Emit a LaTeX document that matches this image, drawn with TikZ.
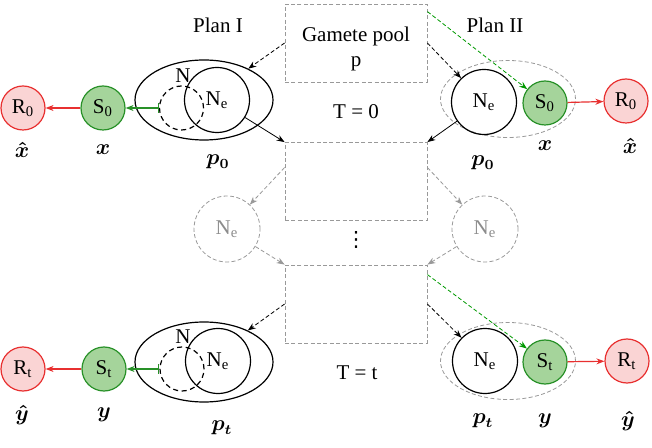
\documentclass[tikz,border=0pt]{standalone}
\usepackage{fontspec}
\setmainfont{Liberation Serif}
\newfontfamily\symfont{DejaVu Sans}
\usepackage{amsmath}
\usetikzlibrary{arrows.meta, shapes.geometric}

\definecolor{redline}{RGB}{232,48,48}
\definecolor{redfill}{RGB}{250,212,212}
\definecolor{greenline}{RGB}{40,145,40}
\definecolor{greenfill}{RGB}{165,212,155}
\newcommand{\lo}[1]{$_{\text{#1}}$}

\begin{document}
\begin{tikzpicture}[x=0.5pt,y=-0.5pt,font=\fontsize{10.5}{12.6}\selectfont]
    \tikzstyle{box}=[draw=gray!80,dash pattern=on 2pt off 1.2pt,line width=.4pt,minimum width=71pt,minimum height=39pt,inner sep=0pt,align=center]
    \tikzstyle{rnode}=[draw=redline,fill=redfill,circle,line width=.6pt,minimum size=22pt,inner sep=0pt]
    \tikzstyle{snode}=[draw=greenline,fill=greenfill,circle,line width=.6pt,minimum size=22pt,inner sep=0pt]
    \tikzstyle{nnode}=[draw,circle,line width=.6pt,minimum size=32.5pt,inner sep=0pt]
    \tikzstyle{dnode}=[draw,circle,dash pattern=on 2.5pt off 1.8pt,line width=.6pt,minimum size=22pt,inner sep=0pt]
    \tikzstyle{gnode}=[draw=gray!80,text=gray!90,circle,dash pattern=on 2pt off 1.2pt,line width=.4pt,minimum size=33pt,inner sep=0pt]
    \tikzstyle{bigell}=[draw,ellipse,line width=.6pt,minimum width=69pt,minimum height=40pt,inner sep=0pt]
    \tikzstyle{grpell}=[draw=gray!80,ellipse,dash pattern=on 2pt off 1.2pt,line width=.4pt,minimum width=67.5pt,minimum height=38.5pt,inner sep=0pt]
    \tikzstyle{arr}=[-{Stealth[length=4pt,width=3pt]},line width=.4pt]
    \tikzstyle{darr}=[arr,dash pattern=on 2pt off 1.2pt]
    \tikzstyle{garr}=[darr,green!60!black]
    \tikzstyle{grarr}=[darr,gray!80]
    \tikzstyle{rarr}=[arr,redline,line width=.6pt]
    \tikzstyle{barr}=[{Bar[width=5pt]}-{Stealth[length=4pt,width=3pt]},greenline,line width=.6pt]
    \useasboundingbox (0,0) rectangle (652,448);

    % middle column
    \node[box] (gp) at (356,43) {};
    \node[align=center] (gptext) at (356,49) {Gamete pool\\p};
    \node[box] (b1) at (356,181.5) {};
    \node[box] (b2) at (356,304) {};
    \node (plan1) at (218,25) {Plan I};
    \node (plan2) at (495,25) {Plan II};
    \node (t0) at (356,112) {T = 0};
    \node (tt) at (357,373) {T = t};
    \node (dots) at (356,240) {\symfont ⋮};

    % plan I, T = 0
    \node[bigell] (ell0) at (204,100) {};
    \node[dnode] (dl0) at (181.5,108) {};
    \node[nnode] (nl0) at (217,100) {N\lo{e}};
    \node (nlab0) at (183,76) {N};
    \node[snode] (sl0) at (103,108) {S\lo{0}};
    \node[rnode] (rl0) at (23,108) {R\lo{0}};
    \node (xh0) at (22,150) {$\boldsymbol{\hat{x}}$};
    \node (x0) at (103,150) {$\boldsymbol{x}$};
    \node (pl0) at (218,162) {$\boldsymbol{p_0}$};

    % plan II, T = 0
    \node[grpell] (gre0) at (508,99) {};
    \node[nnode] (nr0) at (484,102) {N\lo{e}};
    \node[snode] (sr0) at (545,103) {S\lo{0}};
    \node[rnode] (rr0) at (626,101) {R\lo{0}};
    \node (xr0) at (545,146) {$\boldsymbol{x}$};
    \node (xhr0) at (630,146) {$\boldsymbol{\hat{x}}$};
    \node (pr0) at (483,163) {$\boldsymbol{p_0}$};

    % in between
    \node[gnode] (gl) at (227,229) {N\lo{e}};
    \node[gnode] (gr) at (485,229) {N\lo{e}};

    % plan I, T = t
    \node[bigell] (ellt) at (204,362) {};
    \node[dnode] (dlt) at (182,369) {};
    \node[nnode] (nlt) at (218,361) {N\lo{e}};
    \node (nlabt) at (183,337) {N};
    \node[snode] (slt) at (104,369) {S\lo{t}};
    \node[rnode] (rlt) at (23,369) {R\lo{t}};
    \node (yh) at (22,415) {$\boldsymbol{\hat{y}}$};
    \node (y) at (104,415) {$\boldsymbol{y}$};
    \node (plt) at (222,428) {$\boldsymbol{p_t}$};

    % plan II, T = t
    \node[grpell] (gret) at (508,361) {};
    \node[nnode] (nrt) at (485,361) {N\lo{e}};
    \node[snode] (srt) at (545,362) {S\lo{t}};
    \node[rnode] (rrt) at (627,361) {R\lo{t}};
    \node (yr) at (545,421) {$\boldsymbol{y}$};
    \node (yhr) at (628,421) {$\boldsymbol{\hat{y}}$};
    \node (prt) at (483,421) {$\boldsymbol{p_t}$};

    % connectors
    \draw[darr] (gp.west) -- (ell0);
    \draw[darr] (gp.east) -- (nr0);
    \draw[garr] ([yshift=-4pt]gp.north east) -- (sr0);
    \draw[arr] (nl0) -- (b1.north west);
    \draw[arr] (nr0) -- (b1.north east);
    \draw[barr] (dl0.west) -- (sl0);
    \draw[rarr] (sl0) -- (rl0);
    \draw[rarr] (sr0) -- (rr0);

    \draw[grarr] ([yshift=7pt]b1.west) -- (gl);
    \draw[grarr] ([yshift=7pt]b1.east) -- (gr);
    \draw[grarr] (gl) -- (b2.north west);
    \draw[grarr] (gr) -- (b2.north east);

    \draw[darr] (b2.west) -- (ellt);
    \draw[darr] (b2.east) -- (nrt);
    \draw[garr] ([yshift=-5pt]b2.north east) -- (srt);
    \draw[barr] (dlt.west) -- (slt);
    \draw[rarr] (slt) -- (rlt);
    \draw[rarr] (srt) -- (rrt);
\end{tikzpicture}
\end{document}
